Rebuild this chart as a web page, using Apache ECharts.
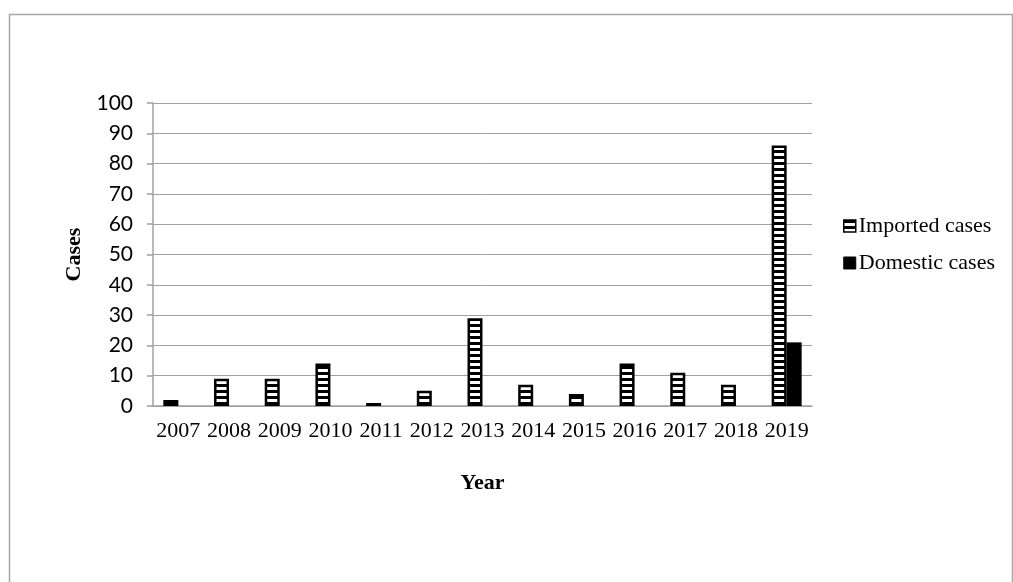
<!DOCTYPE html>
<html>
<head>
<meta charset="utf-8">
<script src="https://cdn.jsdelivr.net/npm/echarts@6/dist/echarts.min.js"></script>
<style>html,body{margin:0;padding:0;background:#fff;}#c{width:1013px;height:582px;}</style>
</head>
<body>
<div id="c"></div>
<script>
const years = ['2007','2008','2009','2010','2011','2012','2013','2014','2015','2016','2017','2018','2019'];
const importedCases = [2, 9, 9, 14, 1, 5, 29, 7, 4, 14, 11, 7, 86];
const domesticCases = [0, 0, 0, 0, 0, 0, 0, 0, 0, 0, 0, 0, 21];
const yTicks = [0, 10, 20, 30, 40, 50, 60, 70, 80, 90, 100];

function stripeCanvas() {
  const cv = document.createElement('canvas');
  cv.width = 4; cv.height = 6;
  const ctx = cv.getContext('2d');
  ctx.fillStyle = '#fff'; ctx.fillRect(0, 0, 4, 6);
  ctx.fillStyle = '#000'; ctx.fillRect(0, 0, 4, 3);
  return cv;
}
const stripe = { image: stripeCanvas(), repeat: 'repeat' };

const chart = echarts.init(document.getElementById('c'), null, { renderer: 'canvas' });
chart.setOption({
  backgroundColor: '#fff',
  animation: false,
  graphic: [{
    type: 'rect', shape: { x: 9.5, y: 14.5, width: 1003, height: 600 },
    style: { fill: 'none', stroke: '#a6a6a6', lineWidth: 1.5 }, z: -1
  }],
  grid: { left: 153, right: 201, top: 103, bottom: 176 },
  legend: {
    orient: 'vertical', left: 838, top: 210, itemGap: 15,
    itemWidth: 12, itemHeight: 12,
    textStyle: { fontFamily: 'Liberation Serif', fontSize: 22, color: '#000', padding: [0, 0, 0, -2] },
    data: [
      { name: 'Imported cases', icon: 'rect', itemStyle: { color: stripe, borderColor: '#000', borderWidth: 1.5 } },
      { name: 'Domestic cases', icon: 'rect', itemStyle: { color: '#000', borderColor: '#000', borderWidth: 1 } }
    ]
  },
  xAxis: {
    type: 'category', data: years,
    name: 'Year', nameLocation: 'middle', nameGap: 66,
    nameTextStyle: { fontFamily: 'Liberation Serif', fontWeight: 'bold', fontSize: 22, color: '#000' },
    axisLine: { lineStyle: { color: '#a0a0a0', width: 1.5 } },
    axisTick: { show: false },
    axisLabel: { fontFamily: 'Liberation Serif', fontSize: 22, color: '#000', margin: 14, interval: 0 }
  },
  yAxis: {
    type: 'value', min: 0, max: 100, interval: 10,
    name: 'Cases', nameLocation: 'middle', nameGap: 63,
    nameTextStyle: { fontFamily: 'Liberation Serif', fontWeight: 'bold', fontSize: 22, color: '#000' },
    axisLine: { show: true, lineStyle: { color: '#a0a0a0', width: 1.5 } },
    axisTick: { show: true, length: 6, lineStyle: { color: '#a0a0a0', width: 1.5 } },
    splitLine: { lineStyle: { color: '#a0a0a0', width: 1 } },
    axisLabel: {
      fontFamily: 'Lato', fontSize: 21, color: '#000', margin: 20,
      formatter: v => yTicks.includes(v) ? String(v) : ''
    }
  },
  series: [
    {
      name: 'Imported cases', type: 'bar', data: importedCases,
      barWidth: 15, barGap: '0%',
      itemStyle: { color: stripe, borderColor: '#000', borderWidth: 2.5 }
    },
    {
      name: 'Domestic cases', type: 'bar', data: domesticCases,
      barWidth: 15, barGap: '0%',
      itemStyle: { color: '#000', borderColor: '#000', borderWidth: 0 }
    }
  ]
});
</script>
</body>
</html>
